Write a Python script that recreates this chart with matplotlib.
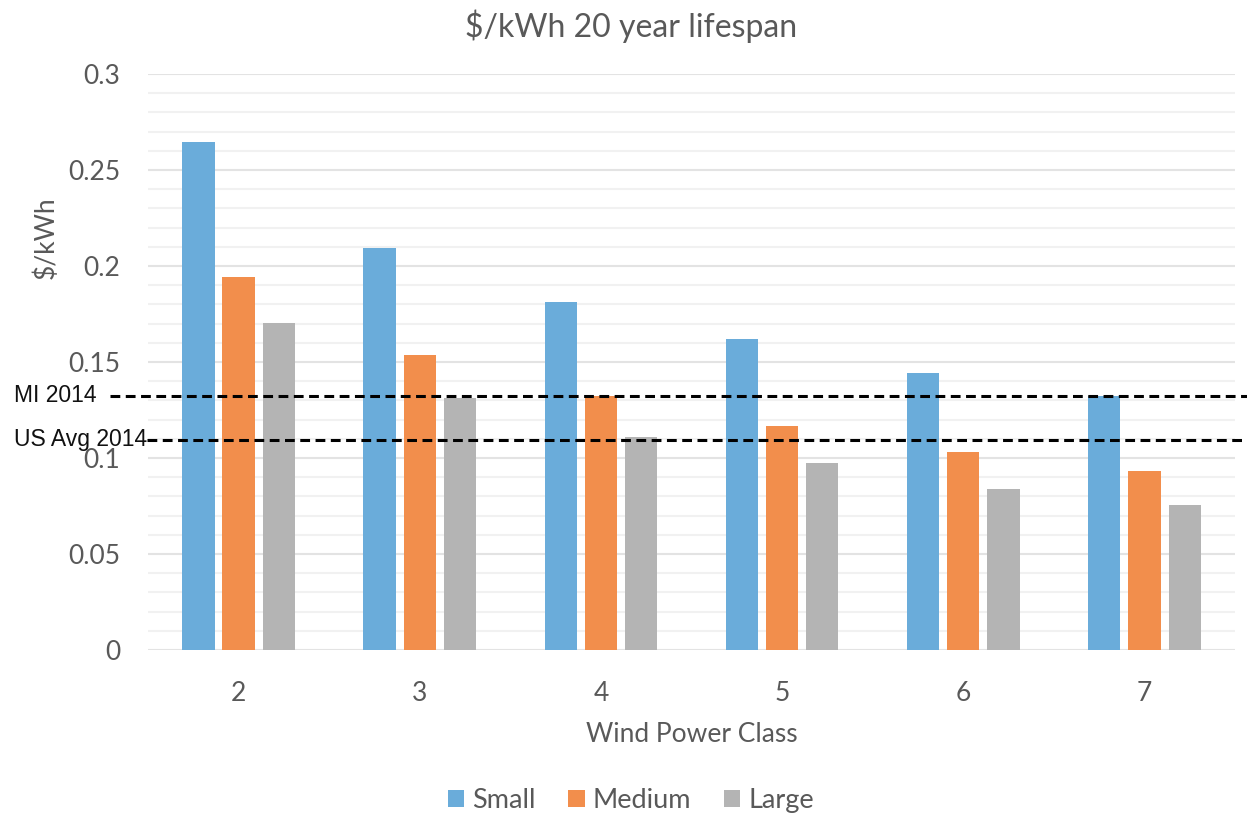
import matplotlib.pyplot as plt
import numpy as np
from matplotlib.transforms import blended_transform_factory
from matplotlib.ticker import MultipleLocator

plt.rcParams['font.family'] = ['Lato', 'DejaVu Sans']

classes = ['2', '3', '4', '5', '6', '7']
small = [0.2646, 0.2094, 0.1813, 0.1620, 0.1443, 0.1323]
medium = [0.1943, 0.1536, 0.1323, 0.1167, 0.1031, 0.0932]
large = [0.1703, 0.1313, 0.1109, 0.0974, 0.0839, 0.0755]
ref_names = ['MI 2014', 'US Avg 2014']
ref_values = [0.1323, 0.1094]

colors = ['#6AACDA', '#F28E4C', '#B4B4B4']
grey = '#595959'

fig = plt.figure(figsize=(12.47, 8.15), dpi=100)
ax = fig.add_axes([0.1187, 0.2025, 0.8717, 0.7067])

x = np.arange(len(classes)) + 2
w = 0.178
off = 0.222
for i, (vals, name) in enumerate(zip([small, medium, large], ['Small', 'Medium', 'Large'])):
    ax.bar(x + (i - 1) * off, vals, w, color=colors[i], label=name, zorder=3)

ax.set_xlim(1.5, 7.5)
ax.set_ylim(0, 0.3)
ax.yaxis.set_major_locator(MultipleLocator(0.05))
ax.yaxis.set_minor_locator(MultipleLocator(0.01))
ax.set_yticks([0, 0.05, 0.1, 0.15, 0.2, 0.25, 0.3])
ax.set_yticklabels(['0', '0.05', '0.1', '0.15', '0.2', '0.25', '0.3'])
ax.set_xticks(x)
ax.set_xticklabels(classes)
ax.grid(axis='y', which='major', color='#E3E3E3', lw=1.5, zorder=0)
ax.grid(axis='y', which='minor', color='#F1F1F1', lw=1.5, zorder=0)
for s in ax.spines.values():
    s.set_visible(False)
ax.tick_params(axis='y', which='both', length=0, pad=20, labelsize=19, labelcolor=grey)
ax.tick_params(axis='x', length=0, pad=22, labelsize=19, labelcolor=grey)
ax.set_xlabel('Wind Power Class', fontsize=19, color=grey, labelpad=12)
fig.text(0.037, 0.708, '$/kWh', rotation=90, fontsize=19, color=grey, ha='center', va='center')
fig.text(0.506, 0.968, '$/kWh 20 year lifespan', fontsize=23, color=grey, ha='center', va='center')

# reference price lines
trans = blended_transform_factory(fig.transFigure, ax.transData)
starts = [0.088, 0.118]
for name, v, x0 in zip(ref_names, ref_values, starts):
    ax.plot([x0, 1.0], [v, v], transform=trans, clip_on=False, color='black',
            lw=2.2, dashes=(3.2, 1.8), zorder=5)
    ax.text(0.011, v, name, transform=trans, fontsize=16.5, family='Liberation Sans',
            color='#111111', ha='left', va='center', zorder=6)

leg = fig.legend(loc='center', bbox_to_anchor=(0.506, 0.018), ncol=3, frameon=False,
                 fontsize=19.5, handlelength=0.6, handleheight=0.6, handletextpad=0.3,
                 columnspacing=1.2)
for t in leg.get_texts():
    t.set_color(grey)

fig.savefig('out.png', dpi=100)
